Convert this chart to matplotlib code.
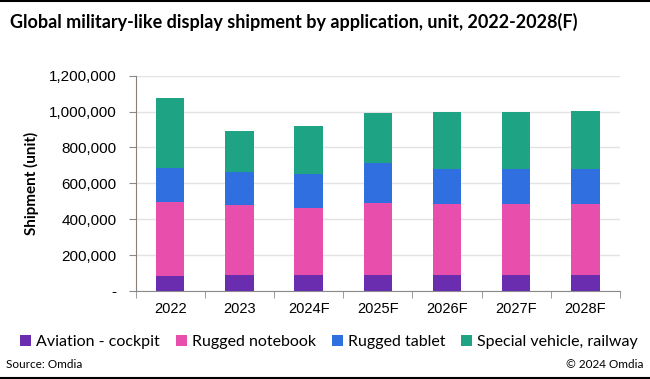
import matplotlib
matplotlib.use("Agg")
import matplotlib.pyplot as plt
from matplotlib.ticker import FuncFormatter, FixedLocator
import numpy as np

years = ["2022", "2023", "2024F", "2025F", "2026F", "2027F", "2028F"]
aviation = [85000, 91000, 88000, 88000, 88000, 88000, 88000]
notebook = [409000, 387000, 375000, 404000, 397000, 397000, 399000]
tablet = [193000, 184000, 189000, 221000, 193000, 195000, 195000]
special = [387000, 230000, 266000, 279000, 318000, 318000, 320000]
series_names = ["Aviation - cockpit", "Rugged notebook", "Rugged tablet", "Special vehicle, railway"]
colors = ["#6a2db0", "#e84fac", "#2f6fe0", "#1fa385"]

fig = plt.figure(figsize=(6.5, 3.79), dpi=100)
ax = fig.add_axes([135.7/650, 1-291/379, (620-135.7)/650, (291-75.7)/379])

x = np.arange(len(years))
bottom = np.zeros(len(years))
handles = []
for vals, c, name in zip([aviation, notebook, tablet, special], colors, series_names):
    h = ax.bar(x, vals, width=0.41, bottom=bottom, color=c, label=name, zorder=3)
    handles.append(h)
    bottom += np.array(vals)

ax.set_ylim(0, 1200000)
ax.set_xlim(-0.5, len(years)-0.5)
ax.set_yticks(np.arange(0, 1200001, 200000))
ax.yaxis.set_major_formatter(FuncFormatter(lambda v, p: "-" if v == 0 else f"{int(v):,}"))
ax.grid(axis="y", color="#e3e3e3", linewidth=1, zorder=0)
ax.set_xticks(x)
ax.set_xticklabels(years, fontsize=10.5, family="Liberation Sans")
ax.tick_params(axis="x", length=0, pad=8)
ax.xaxis.set_minor_locator(FixedLocator(np.arange(-0.5, len(years), 1)))
ax.tick_params(axis="x", which="minor", length=5, color="#8a8a8a")
ax.tick_params(axis="y", length=5, color="#8a8a8a", labelsize=11, pad=9)
for lab in ax.get_yticklabels():
    lab.set_family("Liberation Sans")
for s in ["top", "right"]:
    ax.spines[s].set_visible(False)
ax.spines["left"].set_color("#8a7f7a")
ax.spines["bottom"].set_color("#8a8a8a")
ax.set_ylabel("Shipment (unit)", fontsize=11, fontweight="bold", family="Lato", labelpad=7)

fig.text(10/650, 1-22/379, "Global military-like display shipment by application, unit, 2022-2028(F)",
         fontsize=13, fontweight="bold", family="Lato", va="center", ha="left")

fig.legend(handles=handles, labels=series_names, loc="center", bbox_to_anchor=(329/650, 1-342/379),
           ncol=4, frameon=False, prop={"family": "Lato", "size": 11.5},
           handlelength=0.7, handleheight=0.7, handletextpad=0.3, columnspacing=1.0)

fig.text(6/650, 1-364/379, "Source: Omdia", fontsize=8.5, family="Lato", va="center", ha="left")
fig.text(644/650, 1-364/379, "\u00a9 2024 Omdia", fontsize=8.5, family="Lato", va="center", ha="right")

fig.add_artist(plt.Line2D([0, 1], [1-1/379, 1-1/379], color="black", linewidth=1.5, transform=fig.transFigure))
fig.add_artist(plt.Line2D([0, 1], [1.5/379, 1.5/379], color="black", linewidth=1.5, transform=fig.transFigure))

fig.savefig("out.png", dpi=100)
